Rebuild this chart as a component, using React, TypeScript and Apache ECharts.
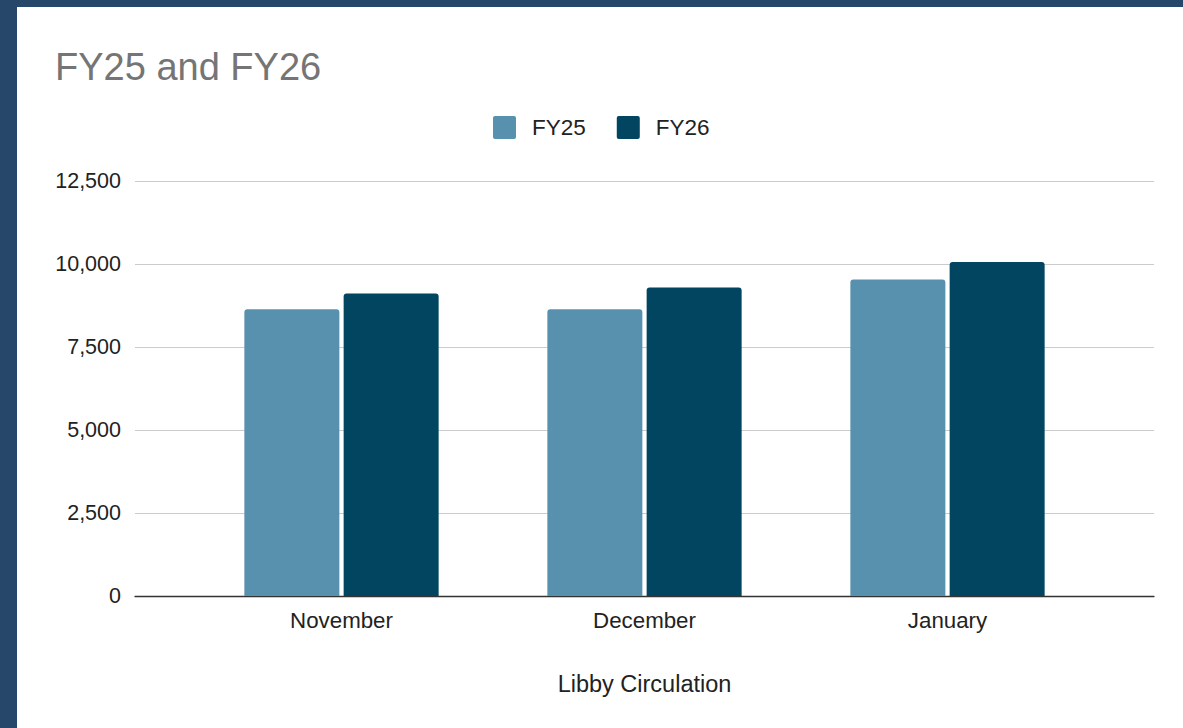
import React, { useEffect, useRef } from "react";
import * as echarts from "echarts";

const categories = ["November", "December", "January"];
const seriesNames = ["FY25", "FY26"];
const fy25 = [8640, 8640, 9530];
const fy26 = [9110, 9290, 10060];
const yTicks = [0, 2500, 5000, 7500, 10000, 12500];

const FONT = "'Liberation Sans', Arial, sans-serif";
const ICON = "path://M2,0H21A2,2 0 0 1 23,2V21A2,2 0 0 1 21,23H2A2,2 0 0 1 0,21V2A2,2 0 0 1 2,0Z";

export default function App() {
  const ref = useRef<HTMLDivElement>(null);
  useEffect(() => {
    if (!ref.current) return;
    const chart = echarts.init(ref.current, undefined, { renderer: "svg" });
    const yMax = yTicks[yTicks.length - 1];
    const step = yTicks[1] - yTicks[0];
    chart.setOption({
      animation: false,
      backgroundColor: "#26466a",
      textStyle: { fontFamily: FONT },
      graphic: [
        {
          type: "rect",
          z: -10,
          silent: true,
          shape: { x: 17, y: 7, width: 1166, height: 721 },
          style: { fill: "#ffffff" },
        },
      ],
      title: {
        text: "FY25 and FY26",
        left: 50,
        top: 43,
        textStyle: { fontSize: 38, fontWeight: "normal", color: "#757575", fontFamily: FONT },
      },
      legend: {
        left: 488,
        top: 111,
        icon: ICON,
        itemWidth: 23,
        itemHeight: 23,
        itemGap: 31,
        data: seriesNames,
        textStyle: { fontSize: 22.5, color: "#222222", fontFamily: FONT, padding: [0, 0, 0, 11] },
      },
      grid: [
        { left: 135, right: 29, top: 181, bottom: 132 },
        { left: 190, right: 84, top: 181, bottom: 132 },
      ],
      xAxis: [
        {
          gridIndex: 0,
          type: "value",
          min: 0,
          max: 1,
          axisLabel: { show: false },
          axisTick: { show: false },
          splitLine: { show: false },
          axisLine: { show: true, lineStyle: { color: "#333333", width: 1.3 } },
        },
        {
          gridIndex: 1,
          type: "category",
          data: categories,
          axisLine: { show: false },
          axisTick: { show: false },
          axisLabel: { fontSize: 22.3, color: "#222222", margin: 13, fontFamily: FONT },
          name: "Libby Circulation",
          nameLocation: "middle",
          nameGap: 76,
          nameTextStyle: { fontSize: 23.5, color: "#222222", fontFamily: FONT },
        },
      ],
      yAxis: [
        {
          gridIndex: 0,
          type: "value",
          min: 0,
          max: yMax,
          interval: step,
          axisLine: { show: false },
          axisTick: { show: false },
          axisLabel: {
            fontSize: 21.5,
            color: "#222222",
            margin: 14,
            fontFamily: FONT,
            formatter: (v: number) => v.toLocaleString("en-US"),
          },
          splitLine: { show: true, lineStyle: { color: "#cccccc", width: 1 } },
        },
        {
          gridIndex: 1,
          type: "value",
          min: 0,
          max: yMax,
          interval: step,
          show: false,
          splitLine: { show: false },
        },
      ],
      series: [
        {
          name: seriesNames[0],
          type: "bar",
          xAxisIndex: 1,
          yAxisIndex: 1,
          data: fy25,
          barWidth: 95,
          barGap: "4.5%",
          itemStyle: { color: "#5891ae", borderRadius: [3, 3, 0, 0] },
        },
        {
          name: seriesNames[1],
          type: "bar",
          xAxisIndex: 1,
          yAxisIndex: 1,
          data: fy26,
          barWidth: 95,
          barGap: "4.5%",
          itemStyle: { color: "#014561", borderRadius: [3, 3, 0, 0] },
        },
      ],
    });
    return () => chart.dispose();
  }, []);
  return (
    <div
      ref={ref}
      style={{ position: "absolute", left: 0, top: 0, width: 1183, height: 728 }}
    />
  );
}
